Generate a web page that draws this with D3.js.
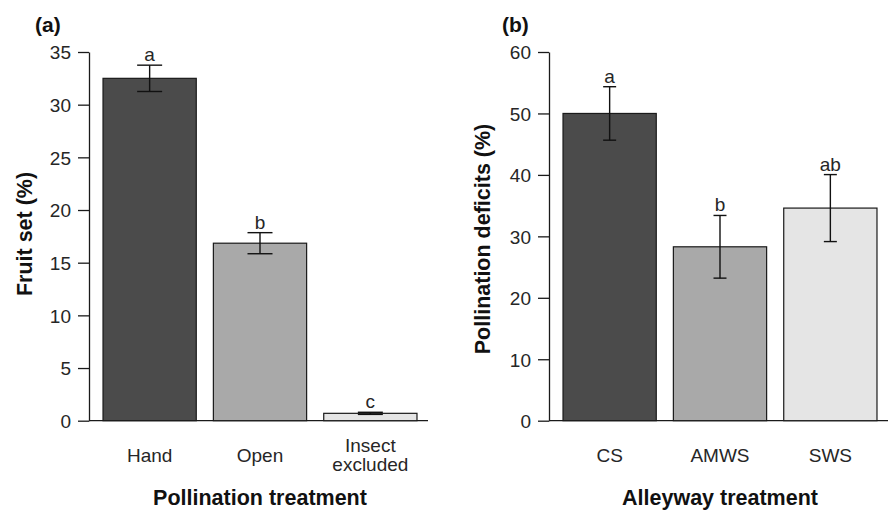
<!DOCTYPE html>
<html lang="en">
<head>
    <meta charset="UTF-8">
    <title>Fruit set and pollination deficits</title>
    <script src="https://d3js.org/d3.v7.min.js"></script>
    <style>
        body{
            margin: 0;
            background-color: white;
        }
        #canvas{
            display: block;
            font-family: "Liberation Sans", Arial, sans-serif;
        }
        .tick text, .catLabel, .sigLetter{
            font-size: 19px;
            fill: #262626;
        }
        .axisTitle, .panelLabel{
            font-weight: bold;
            fill: #111;
        }
        .axisTitle{
            font-size: 21.5px;
        }
        .panelLabel{
            font-size: 21px;
        }
        .bar{
            stroke: #1a1a1a;
            stroke-width: 1.2px;
        }
        .errBar{
            stroke: #111;
            stroke-width: 1.4px;
        }
    </style>
</head>
<body>
    <svg id="canvas" width="890" height="513"></svg>
    <script>
        // panel (a) - fruit set by pollination treatment
        const fruitCats = ['Hand', 'Open', 'Insect\nexcluded'];
        const fruitSet = [32.5, 16.85, 0.7];
        const fruitErr = [1.25, 1.0, 0.1];
        const fruitLetters = ['a', 'b', 'c'];
        const fruitTicks = [0, 5, 10, 15, 20, 25, 30, 35];

        // panel (b) - pollination deficits by alleyway treatment
        const alleyCats = ['CS', 'AMWS', 'SWS'];
        const deficit = [50, 28.3, 34.6];
        const deficitErr = [4.35, 5.1, 5.45];
        const deficitLetters = ['a', 'b', 'ab'];
        const deficitTicks = [0, 10, 20, 30, 40, 50, 60];

        const barFills = ['#4b4b4b', '#a9a9a9', '#e5e5e5'];

        let svg = d3.select('#canvas');

        // draws one panel
        function drawPanel(opt){
            let g = svg.append('g');

            let x = d3.scaleBand()
                .domain(opt.cats)
                .range([opt.left, opt.right])
                .paddingInner(0.155)
                .paddingOuter(0.127);
            let y = d3.scaleLinear()
                .domain([0, opt.max])
                .range([420.7, 52]);

            // y axis
            g.append('g')
                .attr('transform', 'translate(' + opt.left + ',0)')
                .call(d3.axisLeft(y)
                    .tickValues(opt.ticks)
                    .tickSize(11)
                    .tickSizeOuter(0)
                    .tickPadding(7))
                .call(ax => ax.selectAll('path, line').attr('stroke', '#1a1a1a').attr('stroke-width', 1.3))
                .call(ax => ax.selectAll('text').attr('font-family', null).attr('font-size', null));
            g.selectAll('.tick text').attr('dy', '0.36em');

            // baseline
            g.append('line')
                .attr('x1', opt.left)
                .attr('x2', opt.right - 3)
                .attr('y1', y(0))
                .attr('y2', y(0))
                .attr('stroke', '#1a1a1a')
                .attr('stroke-width', 1.3);

            // bars
            g.selectAll('rect.bar')
                .data(opt.vals)
                .enter()
                .append('rect')
                .attr('class', 'bar')
                .attr('x', (d, i) => x(opt.cats[i]))
                .attr('width', x.bandwidth())
                .attr('y', d => y(d))
                .attr('height', d => y(0) - y(d))
                .attr('fill', (d, i) => barFills[i]);

            // error bars + letters
            let cx = i => x(opt.cats[i]) + x.bandwidth() / 2;
            opt.vals.forEach(function(v, i){
                let e = opt.errs[i];
                let eb = g.append('g').attr('class', 'errBar');
                eb.append('line')
                    .attr('x1', cx(i)).attr('x2', cx(i))
                    .attr('y1', y(v + e)).attr('y2', y(v - e));
                [v + e, v - e].forEach(function(yy){
                    eb.append('line')
                        .attr('x1', cx(i) - opt.cap / 2).attr('x2', cx(i) + opt.cap / 2)
                        .attr('y1', y(yy)).attr('y2', y(yy));
                });
                g.append('text')
                    .attr('class', 'sigLetter')
                    .attr('x', cx(i))
                    .attr('y', y(v + e) - 4)
                    .attr('text-anchor', 'middle')
                    .text(opt.letters[i]);
            });

            // category labels
            opt.cats.forEach(function(c, i){
                let lines = c.split('\n');
                let t = g.append('text')
                    .attr('class', 'catLabel')
                    .attr('text-anchor', 'middle')
                    .attr('x', cx(i))
                    .attr('y', lines.length > 1 ? 452 : 462);
                lines.forEach(function(l, k){
                    t.append('tspan')
                        .attr('x', cx(i))
                        .attr('dy', k == 0 ? 0 : 19)
                        .text(l);
                });
            });

            // axis titles
            g.append('text')
                .attr('class', 'axisTitle')
                .attr('text-anchor', 'middle')
                .attr('x', (x(opt.cats[0]) + x(opt.cats[2]) + x.bandwidth()) / 2)
                .attr('y', 505)
                .text(opt.xTitle);
            g.append('text')
                .attr('class', 'axisTitle')
                .attr('text-anchor', 'middle')
                .attr('transform', 'translate(' + opt.yTitleX + ',' + opt.yTitleY + ') rotate(-90)')
                .text(opt.yTitle);

            // panel letter
            g.append('text')
                .attr('class', 'panelLabel')
                .attr('x', opt.panelX)
                .attr('y', 32)
                .text(opt.panel);
        }

        drawPanel({
            cats: fruitCats, vals: fruitSet, errs: fruitErr, letters: fruitLetters,
            ticks: fruitTicks, max: 35, left: 89, right: 431, cap: 25,
            xTitle: 'Pollination treatment', yTitle: 'Fruit set (%)',
            yTitleX: 32, yTitleY: 234, panel: '(a)', panelX: 35
        });
        drawPanel({
            cats: alleyCats, vals: deficit, errs: deficitErr, letters: deficitLetters,
            ticks: deficitTicks, max: 60, left: 549, right: 891, cap: 13,
            xTitle: 'Alleyway treatment', yTitle: 'Pollination deficits (%)',
            yTitleX: 490, yTitleY: 239, panel: '(b)', panelX: 502
        });
    </script>
</body>
</html>
